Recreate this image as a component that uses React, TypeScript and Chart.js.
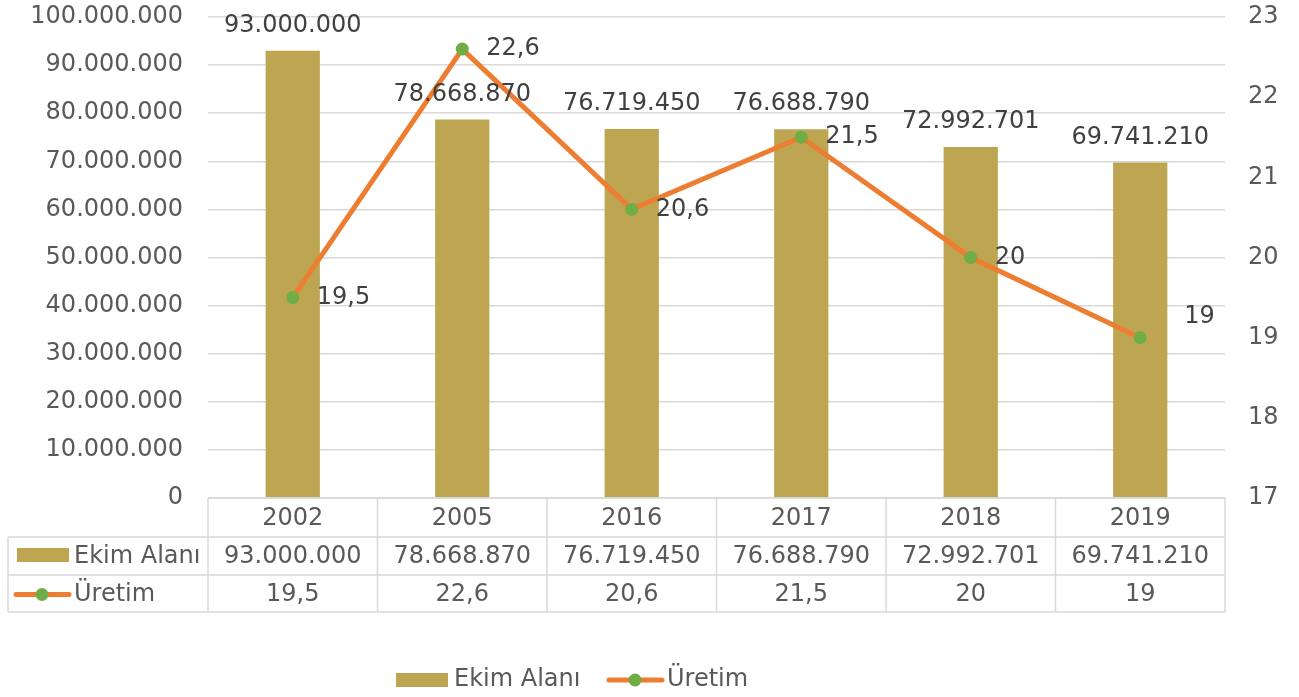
import React, { useEffect, useRef } from "react";
import { Chart, registerables } from "chart.js";

Chart.register(...registerables);

const years = ["2002", "2005", "2016", "2017", "2018", "2019"];
const ekimAlani = [93000000, 78668870, 76719450, 76688790, 72992701, 69741210];
const uretim = [19.5, 22.6, 20.6, 21.5, 20, 19];
const ekimLabel = "Ekim Alanı";
const uretimLabel = "Üretim";
const leftTicks = { min: 0, max: 100000000, step: 10000000 };
const rightTicks = { min: 17, max: 23, step: 1 };

const FONT = "DejaVu Sans, Verdana, sans-serif";
const FS = 24;
const BAR = "#BDA552";
const LINE = "#ED7D31";
const DOT = "#70AD47";
const TXT = "#595959";
const LBL = "#404040";
const GRID = "#D9D9D9";

const fmtInt = (v: number) => String(Math.round(v)).replace(/\B(?=(\d{3})+(?!\d))/g, ".");
const fmtDec = (v: number) => String(v).replace(".", ",");

const overlay = {
  id: "overlay",
  afterDatasetsDraw(chart: any) {
    const ctx = chart.ctx;
    ctx.save();
    ctx.font = `${FS}px ${FONT}`;
    ctx.textBaseline = "middle";
    const barMeta = chart.getDatasetMeta(1);
    ctx.fillStyle = LBL;
    ctx.textAlign = "center";
    barMeta.data.forEach((el: any, i: number) => {
      ctx.fillText(fmtInt(ekimAlani[i]), el.x, el.y - 25);
    });
    const lineMeta = chart.getDatasetMeta(0);
    ctx.textAlign = "left";
    lineMeta.data.forEach((el: any, i: number) => {
      let dx = 24;
      let dy = 0;
      if (i === lineMeta.data.length - 1) {
        dx = 44;
        dy = -21;
      }
      ctx.fillText(fmtDec(uretim[i]), el.x + dx, el.y + dy);
    });
    ctx.restore();
  },
  afterDraw(chart: any) {
    const ctx = chart.ctx;
    const area = chart.chartArea;
    const xs = chart.scales.x;
    const n = years.length;
    const cw = (area.right - area.left) / n;
    const r0 = area.bottom;
    const r1 = 537;
    const r2 = 575;
    const r3 = 612;
    const tableLeft = 8;
    ctx.save();
    ctx.strokeStyle = GRID;
    ctx.lineWidth = 1.5;
    ctx.beginPath();
    ctx.moveTo(area.left, r0);
    ctx.lineTo(area.right, r0);
    ctx.moveTo(tableLeft, r1);
    ctx.lineTo(area.right, r1);
    ctx.moveTo(tableLeft, r2);
    ctx.lineTo(area.right, r2);
    ctx.moveTo(tableLeft, r3);
    ctx.lineTo(area.right, r3);
    ctx.moveTo(tableLeft, r1);
    ctx.lineTo(tableLeft, r3);
    for (let i = 0; i <= n; i++) {
      const x = area.left + cw * i;
      ctx.moveTo(x, r0);
      ctx.lineTo(x, r3);
    }
    ctx.stroke();

    ctx.font = `${FS}px ${FONT}`;
    ctx.fillStyle = TXT;
    ctx.textBaseline = "middle";
    ctx.textAlign = "center";
    years.forEach((y, i) => {
      const cx = xs.getPixelForValue(i);
      ctx.fillText(y, cx, (r0 + r1) / 2 + 1);
      ctx.fillText(fmtInt(ekimAlani[i]), cx, (r1 + r2) / 2 + 1);
      ctx.fillText(fmtDec(uretim[i]), cx, (r2 + r3) / 2 + 1);
    });

    ctx.textAlign = "left";
    ctx.fillStyle = BAR;
    ctx.fillRect(17, 548, 52, 14);
    ctx.fillStyle = TXT;
    ctx.fillText(ekimLabel, 74, (r1 + r2) / 2 + 1);
    const ly = (r2 + r3) / 2 + 1;
    ctx.strokeStyle = LINE;
    ctx.lineWidth = 5;
    ctx.lineCap = "round";
    ctx.beginPath();
    ctx.moveTo(16, ly);
    ctx.lineTo(69, ly);
    ctx.stroke();
    ctx.fillStyle = DOT;
    ctx.beginPath();
    ctx.arc(42, ly, 6.5, 0, Math.PI * 2);
    ctx.fill();
    ctx.fillStyle = TXT;
    ctx.fillText(uretimLabel, 74, ly);

    const gy = 680;
    ctx.fillStyle = BAR;
    ctx.fillRect(396, 673, 52, 14);
    ctx.fillStyle = TXT;
    ctx.fillText(ekimLabel, 454, gy);
    ctx.strokeStyle = LINE;
    ctx.beginPath();
    ctx.moveTo(609, gy);
    ctx.lineTo(662, gy);
    ctx.stroke();
    ctx.fillStyle = DOT;
    ctx.beginPath();
    ctx.arc(635, gy, 6.5, 0, Math.PI * 2);
    ctx.fill();
    ctx.fillStyle = TXT;
    ctx.fillText(uretimLabel, 667, gy);
    ctx.restore();
  },
};

export default function App() {
  const ref = useRef<HTMLCanvasElement | null>(null);
  useEffect(() => {
    document.body.style.margin = "0";
    const chart = new Chart(ref.current as HTMLCanvasElement, {
      type: "bar",
      data: {
        labels: years,
        datasets: [
          {
            type: "line",
            label: uretimLabel,
            data: uretim,
            yAxisID: "y1",
            borderColor: LINE,
            borderWidth: 5,
            pointBackgroundColor: DOT,
            pointBorderColor: DOT,
            pointRadius: 6.5,
            pointBorderWidth: 0,
            tension: 0,
            order: 0,
          } as any,
          {
            type: "bar",
            label: ekimLabel,
            data: ekimAlani,
            yAxisID: "y",
            backgroundColor: BAR,
            barPercentage: 0.32,
            categoryPercentage: 1,
            order: 1,
          },
        ],
      },
      options: {
        responsive: true,
        maintainAspectRatio: false,
        animation: false,
        layout: { padding: { top: 17, left: 0, right: 0, bottom: 0 } },
        plugins: { legend: { display: false }, tooltip: { enabled: false } },
        scales: {
          x: {
            grid: { display: false },
            border: { display: false },
            ticks: { display: false },
            afterFit: (s: any) => {
              s.height = 199;
            },
          },
          y: {
            position: "left",
            min: leftTicks.min,
            max: leftTicks.max,
            grid: {
              color: GRID,
              lineWidth: 1.5,
              drawTicks: true,
              tickLength: 25,
              tickColor: "rgba(0,0,0,0)",
            },
            border: { display: false },
            ticks: {
              stepSize: leftTicks.step,
              color: TXT,
              font: { family: FONT, size: FS },
              padding: 0,
              callback: (v: any) => fmtInt(Number(v)),
            },
            afterFit: (s: any) => {
              s.width = 208;
            },
          },
          y1: {
            position: "right",
            min: rightTicks.min,
            max: rightTicks.max,
            grid: {
              drawOnChartArea: false,
              drawTicks: true,
              tickLength: 23,
              tickColor: "rgba(0,0,0,0)",
            },
            border: { display: false },
            ticks: {
              stepSize: rightTicks.step,
              color: TXT,
              font: { family: FONT, size: FS },
              padding: 0,
            },
            afterFit: (s: any) => {
              s.width = 74;
            },
          },
        },
      },
      plugins: [overlay],
    });
    return () => chart.destroy();
  }, []);
  return (
    <div style={{ position: "fixed", left: 0, top: 0, width: 1299, height: 697 }}>
      <canvas ref={ref} />
    </div>
  );
}
